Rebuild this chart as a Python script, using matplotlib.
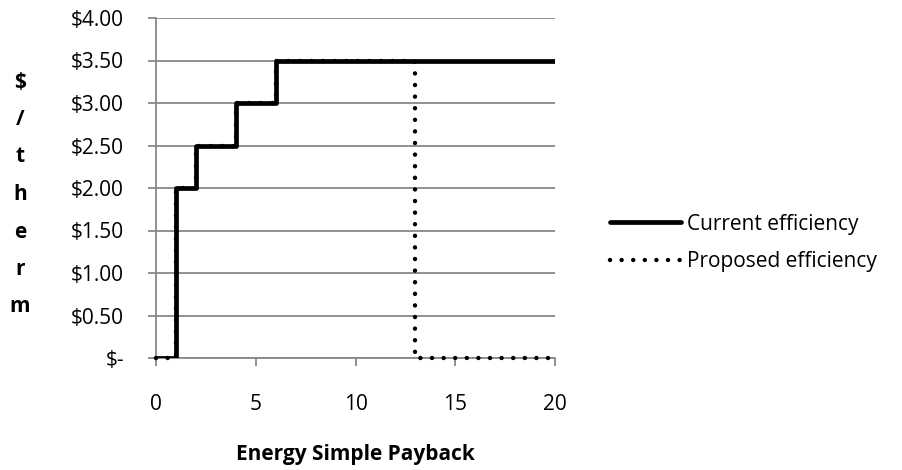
import matplotlib.pyplot as plt
from matplotlib.ticker import FixedLocator

plt.rcParams['font.family'] = ['Open Sans', 'DejaVu Sans']

# step data (payback years -> $/therm)
current_x = [0, 1, 2, 4, 6, 20]
current_y = [0, 2.0, 2.5, 3.0, 3.5, 3.5]
proposed_x = [0, 1, 2, 4, 6, 13, 20]
proposed_y = [0, 2.0, 2.5, 3.0, 3.5, 0, 0]

y_ticks = [0, 0.5, 1.0, 1.5, 2.0, 2.5, 3.0, 3.5, 4.0]
y_labels = ['$-', '$0.50', '$1.00', '$1.50', '$2.00', '$2.50', '$3.00', '$3.50', '$4.00']
x_ticks = [0, 5, 10, 15, 20]

grey = '#888888'
fs = 15

fig = plt.figure(figsize=(9.03, 4.70), dpi=100)
ax = fig.add_axes([156 / 903, 1 - 358 / 470, 399 / 903, 340 / 470])

ax.step(proposed_x, proposed_y, where='post', color='black', lw=3.2,
        linestyle=(0, (0.01, 2.6)), dash_capstyle='round', label='Proposed efficiency',
        zorder=3, clip_on=False)
ax.step(current_x, current_y, where='post', color='black', lw=3.4,
        solid_capstyle='butt', label='Current efficiency', zorder=4)

ax.set_xlim(0, 20)
ax.set_ylim(0, 4)
ax.xaxis.set_major_locator(FixedLocator(x_ticks))
ax.set_yticks(y_ticks)
ax.set_yticklabels(y_labels)
ax.yaxis.grid(True, color=grey, lw=1.3)
ax.set_axisbelow(True)

for s in ['top', 'right']:
    ax.spines[s].set_visible(False)
for s in ['left', 'bottom']:
    ax.spines[s].set_color(grey)
    ax.spines[s].set_linewidth(1.3)

ax.tick_params(axis='x', direction='out', length=6, width=1.3, color=grey, pad=20, labelsize=fs)
ax.tick_params(axis='y', direction='out', length=6, width=1.3, color=grey, pad=17, labelsize=fs)

ax.set_xlabel('Energy Simple Payback', fontsize=fs, fontweight='bold', labelpad=21)

ylab = '$/therm'
for i, ch in enumerate(ylab):
    fig.text(20 / 903, 1 - (82 + i * 37.5) / 470, ch, ha='center', va='center',
             fontsize=fs, fontweight='bold')

handles, labels = ax.get_legend_handles_labels()
leg = fig.legend(handles[::-1], labels[::-1], loc='center left',
                 bbox_to_anchor=(610 / 903, 1 - 243 / 470), frameon=False,
                 borderpad=0, borderaxespad=0,
                 fontsize=fs, handlelength=3.4, handletextpad=0.3, labelspacing=0.8)
leg.get_lines()[0].set_solid_capstyle('round')

fig.savefig('out.png', dpi=100)
